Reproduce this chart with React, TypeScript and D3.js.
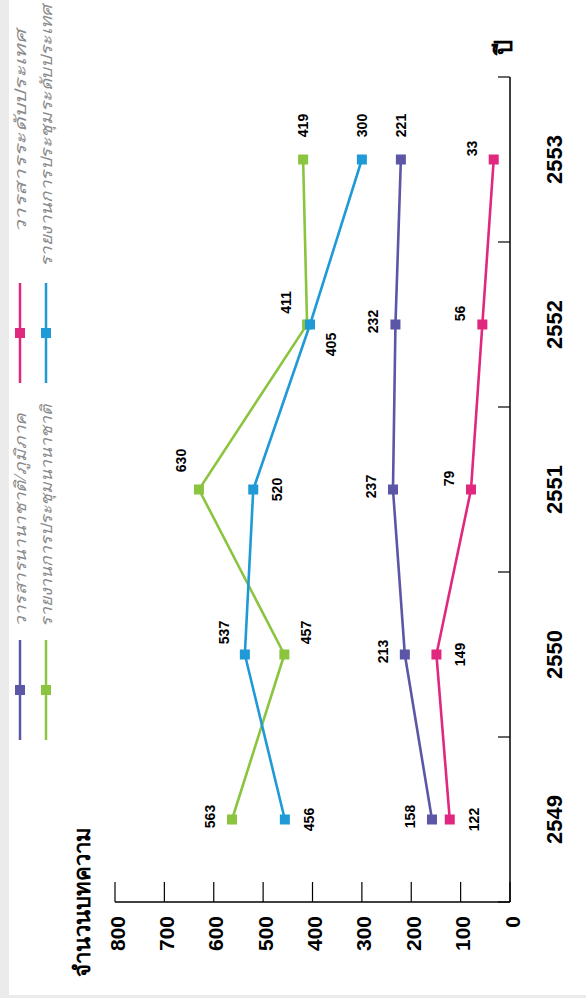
import React from 'react';
import * as d3 from 'd3';

// Publication counts per Buddhist-era year
const years = ['2549', '2550', '2551', '2552', '2553'];
const intlJournal = [158, 213, 237, 232, 221];
const domesticJournal = [122, 149, 79, 56, 33];
const intlProceedings = [563, 457, 630, 411, 419];
const domesticProceedings = [456, 537, 520, 405, 300];
const valueTicks = [0, 100, 200, 300, 400, 500, 600, 700, 800];

const seriesNames = [
  'วารสารนานาชาติ/ภูมิภาค',
  'วารสารระดับประเทศ',
  'รายงานการประชุมนานาชาติ',
  'รายงานการประชุมระดับประเทศ',
];

// where each value label sits relative to its marker
const labelPlacement = [
  ['top', 'top', 'top', 'top', 'right'],
  ['bottom', 'bottom', 'topNear', 'topNear', 'topNear'],
  ['top', 'bottomRight', 'topFar', 'topRight', 'right'],
  ['bottom', 'topRight', 'bottom', 'bottomLeft', 'right'],
];

const offsets: Record<string, [number, number]> = {
  top: [3, -22],
  bottom: [0, 24],
  topNear: [11, -22],
  topRight: [22, -21],
  topFar: [29, -18],
  bottomRight: [22, 22],
  bottomLeft: [-20, 21],
  right: [34, 0],
};

const colors = ['#5b56a5', '#e0287f', '#8bc43f', '#1f9ad6'];

const OUT_W = 586;
const OUT_H = 998;

export default function App() {
  const series = [intlJournal, domesticJournal, intlProceedings, domesticProceedings];
  // chart is laid out in a landscape frame (998 x 586) and turned a quarter turn
  const x = d3.scaleBand<string>().domain(years).range([96, 921]).padding(0);
  const y = d3.scaleLinear().domain([0, 800]).range([510, 115]);
  const line = d3
    .line<number>()
    .x((_, i) => (x(years[i]) as number) + x.bandwidth() / 2)
    .y((d) => y(d));

  const boundaries = years.map((yr) => x(yr) as number).concat([x.range()[1]]);
  const numFont = '"Liberation Sans", Arial, sans-serif';
  const thaiFont = '"Noto Sans", "DejaVu Sans", sans-serif';

  const legendItems = [
    { s: 0, lx: 258, ly: 20, tx: 371, len: 214 },
    { s: 1, lx: 615, ly: 20, tx: 765, len: 203 },
    { s: 2, lx: 258, ly: 46, tx: 371, len: 222 },
    { s: 3, lx: 615, ly: 46, tx: 731, len: 262 },
  ];

  return (
    <div style={{ position: 'absolute', left: 0, top: 0 }}>
      <svg width={OUT_W} height={OUT_H} style={{ display: 'block' }}>
        <rect x={0} y={0} width={OUT_W} height={OUT_H} fill="#ebebeb" />
        <rect x={9} y={0} width={OUT_W - 9} height={995} fill="#ffffff" />
        <g transform={`translate(0,${OUT_H}) rotate(-90)`}>
          {/* legend */}
          {legendItems.map((it) => (
            <g key={it.s}>
              <line x1={it.lx} x2={it.lx + 100} y1={it.ly} y2={it.ly} stroke={colors[it.s]} strokeWidth={2.5} />
              <rect x={it.lx + 45} y={it.ly - 5} width={10} height={10} fill={colors[it.s]} />
              <text
                x={it.tx}
                y={it.ly}
                dominantBaseline="central"
                fontFamily={thaiFont}
                fontStyle="italic"
                fontWeight={300}
                fontSize={16}
                fill="#8a8a8a"
                textLength={it.len}
                lengthAdjust="spacingAndGlyphs"
              >
                {seriesNames[it.s]}
              </text>
            </g>
          ))}

          {/* value axis */}
          <line x1={96} x2={96} y1={y(800)} y2={y(0)} stroke="#000" strokeWidth={1.5} />
          {valueTicks.map((v) => (
            <g key={v}>
              <line x1={96} x2={116} y1={y(v)} y2={y(v)} stroke="#000" strokeWidth={1.2} />
              <text
                x={82}
                y={y(v) + 2}
                textAnchor="end"
                dominantBaseline="central"
                fontFamily={numFont}
                fontWeight="bold"
                fontSize={21}
              >
                {v}
              </text>
            </g>
          ))}
          <text x={21} y={90} fontFamily={thaiFont} fontWeight="bold" fontSize={22} fill="#000">
            จำนวนบทความ
          </text>

          {/* category axis */}
          <line x1={96} x2={921} y1={510} y2={510} stroke="#000" strokeWidth={1.5} />
          {boundaries.map((b, i) => (
            <line key={i} x1={b} x2={b} y1={510} y2={498} stroke="#000" strokeWidth={1.2} />
          ))}
          {years.map((yr) => (
            <text
              key={yr}
              x={(x(yr) as number) + x.bandwidth() / 2}
              y={562}
              textAnchor="middle"
              fontFamily={numFont}
              fontWeight="bold"
              fontSize={22}
            >
              {yr}
            </text>
          ))}
          <text x={951} y={502} textAnchor="middle" dominantBaseline="central" fontFamily={thaiFont} fontWeight="bold" fontSize={24}>
            ปี
          </text>

          {/* series */}
          {series.map((vals, si) => (
            <g key={si}>
              <path d={line(vals) as string} fill="none" stroke={colors[si]} strokeWidth={2.6} />
              {vals.map((v, i) => {
                const cx = (x(years[i]) as number) + x.bandwidth() / 2;
                const cy = y(v);
                const [dx, dy] = offsets[labelPlacement[si][i]];
                return (
                  <g key={i}>
                    <rect x={cx - 5} y={cy - 5} width={10} height={10} fill={colors[si]} />
                    <text
                      x={cx + dx}
                      y={cy + dy}
                      textAnchor="middle"
                      dominantBaseline="central"
                      fontFamily={numFont}
                      fontWeight="bold"
                      fontSize={14}
                    >
                      {v}
                    </text>
                  </g>
                );
              })}
            </g>
          ))}
        </g>
      </svg>
    </div>
  );
}
